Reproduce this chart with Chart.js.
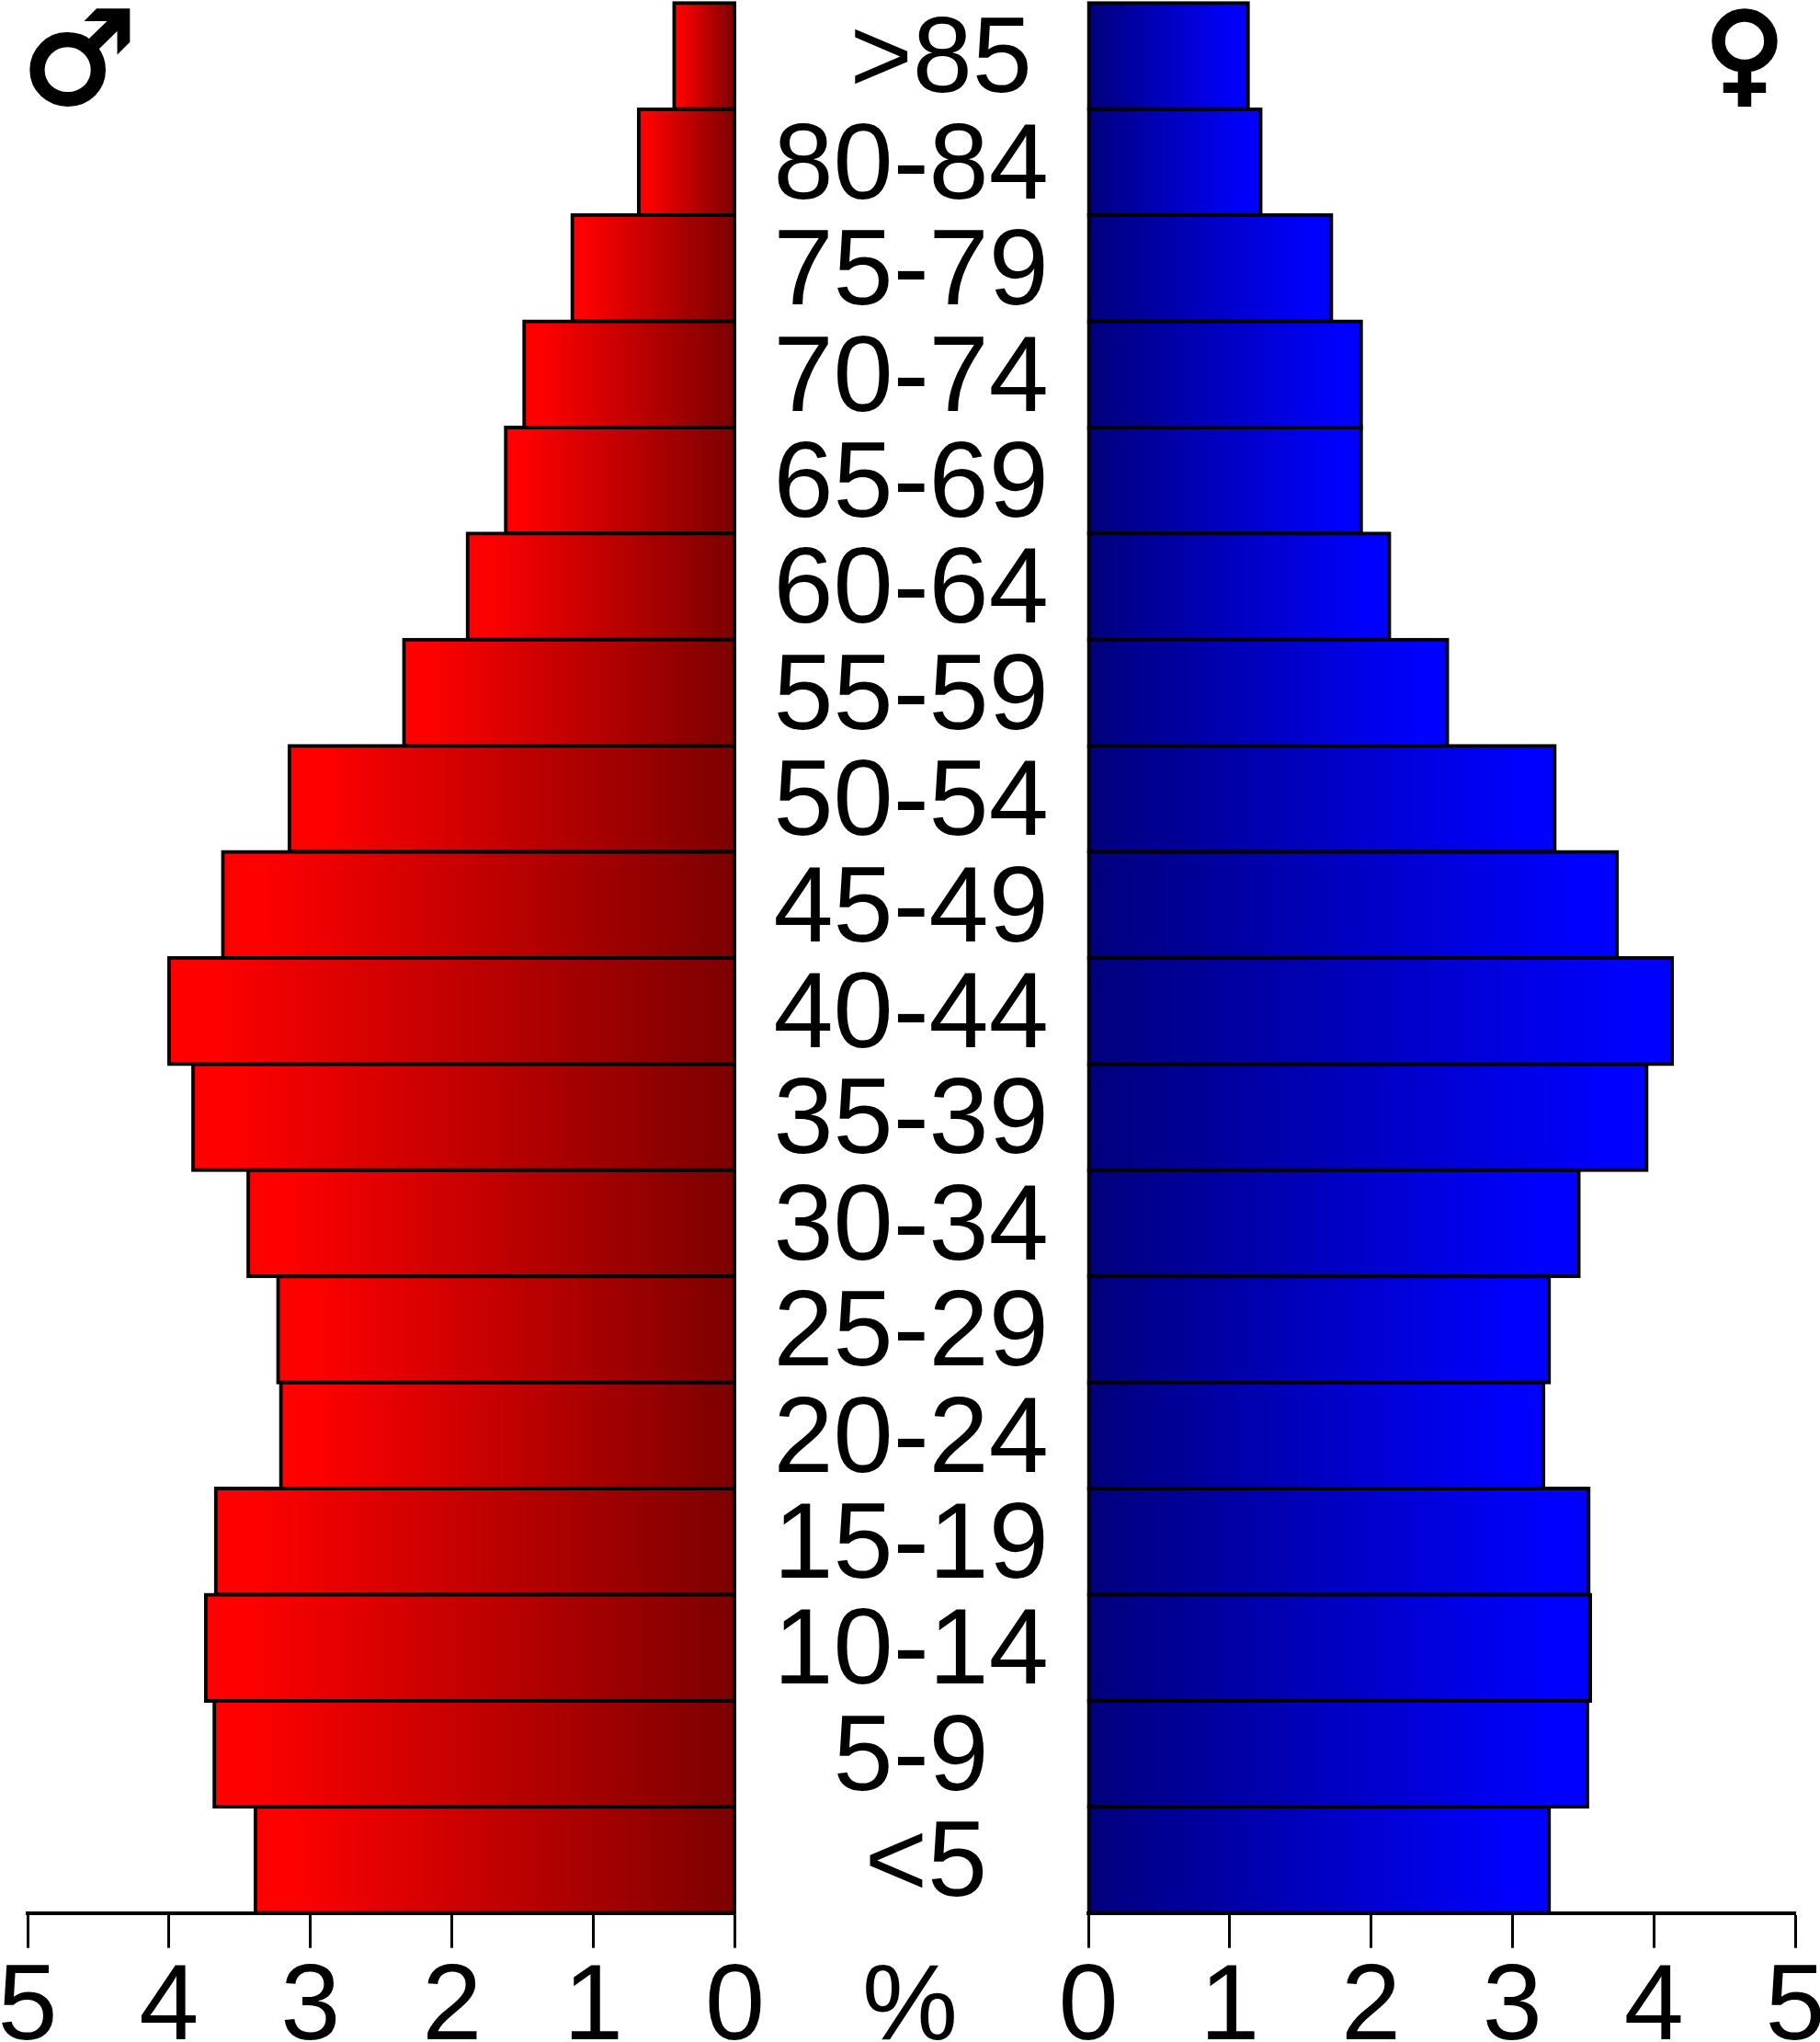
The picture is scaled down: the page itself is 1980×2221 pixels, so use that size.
<!DOCTYPE html>
<html>
<head>
<meta charset="utf-8">
<title>Population pyramid</title>
<script src="https://cdn.jsdelivr.net/npm/chart.js@4"></script>
<style>
  html, body { margin: 0; padding: 0; background: #fff; }
  #page { position: relative; width: 1980px; height: 2221px; overflow: hidden; background: #fff; }
  canvas { position: absolute; top: 0; }
  #leftChart { left: 0; }
  #rightChart { left: 1100px; }
</style>
</head>
<body>
<div id="page">
  <canvas id="leftChart" width="1183" height="2221"></canvas>
  <canvas id="rightChart" width="880" height="2221"></canvas>
</div>
<script>
// leading spaces push the two open-ended groups off centre, as in the original
const ageGroups = ['  >85', '80-84', '75-79', '70-74', '65-69', '60-64', '55-59', '50-54', '45-49',
  '40-44', '35-39', '30-34', '25-29', '20-24', '15-19', '10-14', '5-9', ' <5'];
const maleShare = [0.43, 0.68, 1.15, 1.49, 1.62, 1.89, 2.34, 3.15, 3.62,
  4.00, 3.83, 3.44, 3.23, 3.21, 3.67, 3.74, 3.68, 3.39];
const femaleShare = [1.13, 1.22, 1.72, 1.93, 1.93, 2.13, 2.54, 3.30, 3.74,
  4.13, 3.95, 3.47, 3.26, 3.22, 3.54, 3.55, 3.53, 3.26];
const axisTicks = [0, 1, 2, 3, 4, 5];

const FONT = 'Liberation Sans, Helvetica, Arial, sans-serif';
const SYMBOL_FONT = '"DejaVu Sans", sans-serif';
const LABEL_SIZE = 117;

// each bar runs from dark at the zero line to full colour at its own end
function barGradient(darkColor, brightColor) {
  return (ctx) => {
    if (ctx.type !== 'data' || !ctx.chart.chartArea) return brightColor;
    const xScale = ctx.chart.scales.x;
    const g = ctx.chart.ctx.createLinearGradient(
      xScale.getPixelForValue(0), 0, xScale.getPixelForValue(ctx.raw), 0);
    g.addColorStop(0, darkColor);
    g.addColorStop(0.93, brightColor);
    g.addColorStop(1, brightColor);
    return g;
  };
}

function xAxis(reverse) {
  return {
    type: 'linear',
    reverse: reverse,
    min: 0,
    max: 5,
    afterBuildTicks: (scale) => { scale.ticks = axisTicks.map((v) => ({ value: v })); },
    afterFit: (scale) => {
      scale.height = 2221 - 2080.7;
      scale.paddingLeft = 0;
      scale.paddingRight = 0;
    },
    grid: { drawOnChartArea: false, drawTicks: true, tickLength: 38, tickWidth: 3, tickColor: '#000' },
    border: { display: true, color: '#000', width: 4 },
    ticks: {
      color: '#000',
      padding: -3,
      maxRotation: 0,
      autoSkip: false,
      font: { family: FONT, size: LABEL_SIZE }
    }
  };
}

function baseOptions(padding) {
  return {
    indexAxis: 'y',
    responsive: false,
    animation: false,
    devicePixelRatio: 1,
    layout: { padding: padding },
    plugins: { legend: { display: false }, tooltip: { enabled: false } }
  };
}

function dataset(label, values, dark, bright) {
  return {
    label: label,
    data: values,
    backgroundColor: barGradient(dark, bright),
    borderColor: '#000',
    borderWidth: 4,
    borderSkipped: false,
    inflateAmount: 2,
    categoryPercentage: 1,
    barPercentage: 1,
    clip: false
  };
}

function textPlugin(id, items) {
  return {
    id: id,
    afterDraw(chart) {
      const c = chart.ctx;
      c.save();
      c.fillStyle = '#000';
      c.strokeStyle = '#000';
      c.textAlign = 'center';
      c.textBaseline = 'alphabetic';
      items.forEach((t) => {
        c.font = t.font;
        c.fillText(t.text, t.x, t.y);
        // the symbol glyphs are thinner than the ones in the picture
        if (t.stroke) {
          c.lineWidth = t.stroke;
          c.strokeText(t.text, t.x, t.y);
        }
      });
      c.restore();
    }
  };
}

new Chart(document.getElementById('leftChart'), {
  type: 'bar',
  data: { labels: ageGroups, datasets: [dataset('Male', maleShare, '#7c0000', '#ff0000')] },
  options: Object.assign(baseOptions({ left: 30, right: 0, top: 3.3, bottom: 0 }), {
    scales: {
      x: xAxis(true),
      y: {
        position: 'right',
        afterFit: (scale) => {
          scale.width = 383.5;
          scale.paddingTop = 0;
          scale.paddingBottom = 0;
        },
        grid: { display: false },
        border: { display: false },
        ticks: {
          color: '#000',
          padding: 34,
          labelOffset: 7,
          crossAlign: 'center',
          autoSkip: false,
          font: { family: FONT, size: LABEL_SIZE }
        }
      }
    }
  }),
  plugins: [textPlugin('leftText', [
    { text: '%', x: 990, y: 2218, font: LABEL_SIZE + 'px ' + FONT },
    { text: '\u2642', x: 86, y: 112, font: '140px ' + SYMBOL_FONT, stroke: 4 }
  ])]
});

new Chart(document.getElementById('rightChart'), {
  type: 'bar',
  data: { labels: ageGroups, datasets: [dataset('Female', femaleShare, '#00007c', '#0000ff')] },
  options: Object.assign(baseOptions({ left: 84, right: 27, top: 3.3, bottom: 0 }), {
    scales: {
      x: xAxis(false),
      y: { display: false }
    }
  }),
  plugins: [textPlugin('rightText', [
    { text: '\u2640', x: 798, y: 99, font: '120px ' + SYMBOL_FONT, stroke: 4 }
  ])]
});
</script>
</body>
</html>
